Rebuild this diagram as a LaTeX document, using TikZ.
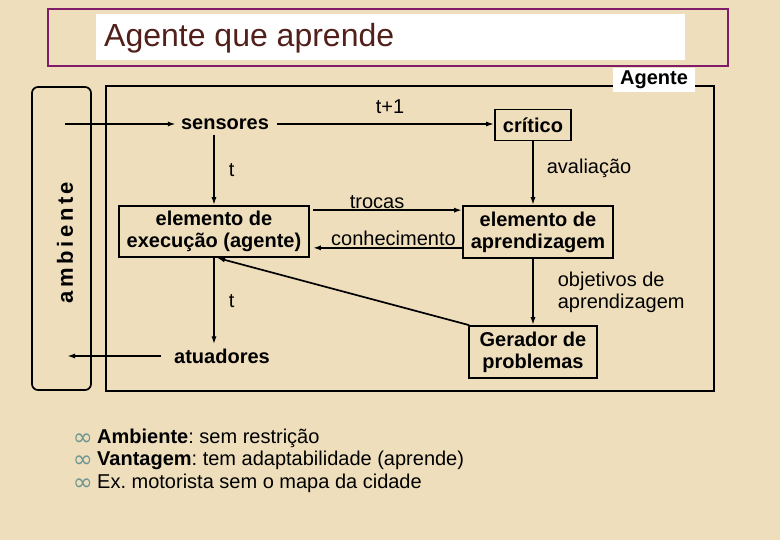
\documentclass[tikz,border=0pt]{standalone}
\usepackage{fontspec}
\setmainfont{Liberation Sans}
\newfontfamily\marcafont{DejaVu Sans}
\usetikzlibrary{arrows.meta}
\definecolor{papel}{RGB}{238,222,188}
\definecolor{moldura}{RGB}{128,28,104}
\definecolor{titulo}{RGB}{82,32,26}
\definecolor{marca}{RGB}{110,150,146}
\frenchspacing
\tikzset{>={Latex[length=8pt,width=5pt]}}
\tikzset{
  linha/.style={line width=1.7pt},
  bloco/.style={draw, line width=1.7pt, align=center, inner sep=0pt,
    font=\bfseries\fontsize{20}{22}\selectfont},
  palavra/.style={inner sep=0pt, font=\bfseries\fontsize{20}{22}\selectfont},
  rotulo/.style={inner sep=0pt, font=\fontsize{20}{22}\selectfont},
  item/.style={anchor=base west, inner sep=0pt, font=\fontsize{20}{22}\selectfont},
  marcador/.style={anchor=base east, inner sep=0pt, text=marca, text height=12pt, text depth=0pt,
    font=\marcafont\fontsize{24}{24}\selectfont},
}

\begin{document}
\begin{tikzpicture}[x=1pt,y=-1pt]
% fundo
\fill[papel] (0,0) rectangle (780,540);
\useasboundingbox (0,0) rectangle (780,540);
% titulo
\draw[moldura, line width=1.5pt] (48,9) rectangle (728,66);
\fill[white] (96,14) rectangle (685,60);
\node[anchor=west, inner sep=0pt, text=titulo, font=\fontsize{32}{36}\selectfont] (tit) at (104,38) {Agente que aprende};
% ambiente e agente
\draw[linha, rounded corners=6pt] (32,87) rectangle (91,390);
\node[rotate=90, inner sep=0pt, font=\bfseries\fontsize{22}{22}\selectfont\addfontfeature{LetterSpace=16}] (amb) at (65,242.5) {ambiente};
\draw[linha] (106,86) rectangle (714,391);
\node[fill=white, palavra, minimum width=82pt, minimum height=24pt] (ag) at (654,80) {Agente};
% blocos
\node[palavra, inner sep=5pt] (sens) at (225,124) {sensores};
\node[bloco, minimum width=76pt, minimum height=31pt] (crit) at (533,125) {crítico};
\node[bloco, minimum width=190pt, minimum height=51pt] (exec) at (214,231.5) {elemento de\\execução (agente)};
\node[bloco, minimum width=150pt, minimum height=52pt] (apr) at (538,232) {elemento de\\aprendizagem};
\node[bloco, minimum width=128pt, minimum height=52pt] (ger) at (533,352) {Gerador de\\problemas};
\node[palavra, inner sep=4pt] (atu) at (222,356) {atuadores};
\coordinate (entra) at (65,124);
\coordinate (sai) at (67,356);
% setas
\draw[linha,->] (entra) -- (sens);
\draw[linha,->] ([xshift=3pt]sens.east) -- node[rotulo, above=9pt, pos=0.52] (tmais) {t+1} (sens.east -| crit.west);
\draw[linha,->] (sens.south -| exec.north) -- node[rotulo, right=14pt] (t1) {t} (exec.north);
\draw[linha,->] (crit.south) -- node[rotulo, right=13pt, pos=0.42] (aval) {avaliação} (crit.south |- apr.north);
\draw[linha,->] ([xshift=3pt,yshift=-5pt]exec.north east) -- node[rotulo, above=1pt, pos=0.43] (troc) {trocas} ([yshift=-5pt]apr.north west);
\draw[linha,->] ([yshift=11pt]apr.south west) -- node[rotulo, above=1.5pt, pos=0.46] (conh) {conhecimento} ([xshift=3pt,yshift=10pt]exec.south east);
\draw[linha,->] (ger.north |- apr.south) -- node[rotulo, right=24pt, align=left] (obj) {objetivos de\\aprendizagem} (ger.north);
\draw[linha,->] ([xshift=1pt]ger.north west) -- ([xshift=3pt]exec.south);
\draw[linha,->] (exec.south) -- node[rotulo, right=14pt] (t2) {t} (exec.south |- atu.north);
\draw[linha,->] ([xshift=-9pt]atu.west) -- (sai);
% itens
\node[item] (i1) at (97,443) {\textbf{Ambiente}: sem restrição};
\node[item] (i2) at (97,465.5) {\textbf{Vantagem}: tem adaptabilidade (aprende)};
\node[item] (i3) at (97,488) {Ex. motorista sem o mapa da cidade};
\foreach \i in {i1,i2,i3}
  \node[marcador] at ([xshift=-4pt,yshift=-2pt]\i.base west) {∞};
\end{tikzpicture}
\end{document}
